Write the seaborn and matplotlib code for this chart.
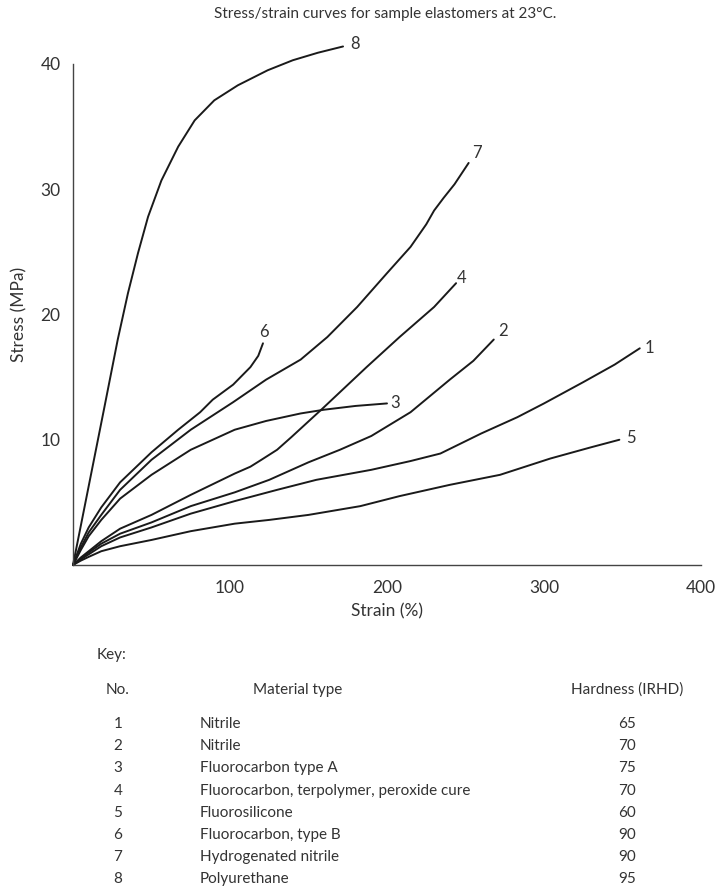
import matplotlib
matplotlib.use("Agg")
import matplotlib.pyplot as plt
import seaborn as sns
import pandas as pd

# ---- data ----
curve_ids = ["1", "2", "3", "4", "5", "6", "7", "8"]

strain_1 = [0, 5, 10, 18, 30, 50, 75, 103, 130, 155, 190, 215, 234, 260, 283, 300, 325, 345, 361]
stress_1 = [0, 0.45, 0.85, 1.5, 2.2, 3.0, 4.1, 5.1, 6.0, 6.8, 7.6, 8.3, 8.9, 10.5, 11.8, 12.9, 14.6, 16.0, 17.3]

strain_2 = [0, 5, 10, 18, 30, 50, 75, 103, 125, 150, 170, 190, 215, 240, 255, 268]
stress_2 = [0, 0.5, 1.0, 1.7, 2.5, 3.4, 4.7, 5.8, 6.8, 8.2, 9.2, 10.3, 12.2, 14.8, 16.3, 18.0]

strain_3 = [0, 5, 10, 18, 30, 50, 75, 103, 123, 145, 160, 180, 200]
stress_3 = [0, 1.2, 2.3, 3.6, 5.3, 7.2, 9.2, 10.8, 11.5, 12.1, 12.4, 12.7, 12.9]

strain_4 = [0, 5, 10, 18, 30, 50, 75, 103, 113, 120, 130, 139, 159, 187, 208, 230, 244]
stress_4 = [0, 0.6, 1.1, 1.9, 2.9, 4.0, 5.6, 7.3, 7.85, 8.4, 9.2, 10.2, 12.5, 15.8, 18.2, 20.6, 22.5]

strain_5 = [0, 5, 10, 18, 30, 50, 75, 103, 125, 150, 183, 208, 240, 272, 304, 330, 348]
stress_5 = [0, 0.35, 0.65, 1.1, 1.5, 2.0, 2.7, 3.3, 3.6, 4.0, 4.7, 5.5, 6.4, 7.2, 8.5, 9.4, 10.0]

strain_6 = [0, 5, 10, 18, 30, 50, 67, 81, 89, 102, 113, 118, 121]
stress_6 = [0, 1.7, 3.0, 4.6, 6.6, 9.0, 10.8, 12.2, 13.2, 14.4, 15.8, 16.7, 17.7]

strain_7 = [0, 5, 10, 18, 30, 50, 75, 102, 123, 145, 162, 181, 200, 215, 225, 230, 236, 243, 252]
stress_7 = [0, 1.4, 2.6, 4.0, 6.0, 8.4, 10.8, 13.0, 14.8, 16.4, 18.2, 20.6, 23.3, 25.4, 27.2, 28.3, 29.3, 30.4, 32.1]

strain_8 = [0, 10, 20, 28.5, 35, 41.4, 47.8, 56.3, 67, 77.5, 90, 105, 124, 140, 156, 172]
stress_8 = [0, 6.3, 12.6, 18.0, 21.7, 24.9, 27.8, 30.7, 33.4, 35.5, 37.1, 38.3, 39.5, 40.3, 40.9, 41.4]

x_ticks = [0, 100, 200, 300, 400]
x_tick_labels = ["", "100", "200", "300", "400"]
y_ticks = [0, 10, 20, 30, 40]
y_tick_labels = ["", "10", "20", "30", "40"]

key_no = ["1", "2", "3", "4", "5", "6", "7", "8"]
key_material = ["Nitrile", "Nitrile", "Fluorocarbon type A",
                "Fluorocarbon, terpolymer, peroxide cure", "Fluorosilicone",
                "Fluorocarbon, type B", "Hydrogenated nitrile", "Polyurethane"]
key_hardness = ["65", "70", "75", "70", "60", "90", "90", "95"]

title = "Stress/strain curves for sample elastomers at 23°C."
x_label = "Strain (%)"
y_label = "Stress (MPa)"

# ---- build table ----
strains = [strain_1, strain_2, strain_3, strain_4, strain_5, strain_6, strain_7, strain_8]
stresses = [stress_1, stress_2, stress_3, stress_4, stress_5, stress_6, stress_7, stress_8]
rows = []
for cid, xs, ys in zip(curve_ids, strains, stresses):
    for i, (x, y) in enumerate(zip(xs, ys)):
        rows.append({"curve": cid, "order": i, "strain": x, "stress": y})
df = pd.DataFrame(rows)

sns.set_theme(style="white")
plt.rcParams["font.family"] = ["Lato", "DejaVu Sans"]
TXT = "#333333"
LINE = "#1a1a1a"

fig = plt.figure(figsize=(7.17, 8.92), dpi=100)
ax = fig.add_axes([73 / 717, 327 / 892, 628 / 717, 501 / 892])

sns.lineplot(data=df, x="strain", y="stress", units="curve", estimator=None,
             sort=False, color=LINE, linewidth=1.4, ax=ax, legend=False)
for ln in ax.lines:
    ln.set_clip_on(False)
    ln.set_solid_joinstyle("round")
    ln.set_solid_capstyle("round")

ax.set_xlim(0, 400)
ax.set_ylim(0, 40)
ax.set_xticks(x_ticks)
ax.set_xticklabels(x_tick_labels)
ax.set_yticks(y_ticks)
ax.set_yticklabels(y_tick_labels)
sns.despine(ax=ax)
for s in ["left", "bottom"]:
    ax.spines[s].set_color("#444444")
    ax.spines[s].set_linewidth(1.0)
ax.tick_params(axis="both", direction="out", length=5, width=1.0,
               color="#444444", labelsize=12.5, labelcolor=TXT, pad=4)
ax.tick_params(axis="x", pad=6)
ax.set_xlabel(x_label, fontsize=12.5, color=TXT, labelpad=5)
ax.set_ylabel(y_label, fontsize=12.5, color=TXT, labelpad=9)
ax.grid(False)

# curve end labels
label_offsets = {"1": (7, 0), "2": (7, 6), "3": (6, 0), "4": (4, 4),
                 "5": (8, 1), "6": (1, 8), "7": (6, 7), "8": (9, 2)}
for cid, xs, ys in zip(curve_ids, strains, stresses):
    dx, dy = label_offsets[cid]
    ax.annotate(cid, xy=(xs[-1], ys[-1]), xytext=(dx, dy), textcoords="offset points",
                ha="center", va="center", fontsize=12, color=TXT, annotation_clip=False)

fig.text(385 / 717, 1 - 14 / 892, title, ha="center", va="center", fontsize=11, color=TXT)

# key table
def fy(py):
    return 1 - py / 892

fig.text(97 / 717, fy(655), "Key:", ha="left", va="center", fontsize=11, color=TXT)
fig.text(118 / 717, fy(690), "No.", ha="center", va="center", fontsize=11, color=TXT)
fig.text(298 / 717, fy(690), "Material type", ha="center", va="center", fontsize=11, color=TXT)
fig.text(627 / 717, fy(690), "Hardness (IRHD)", ha="center", va="center", fontsize=11, color=TXT)
row_y0, row_dy = 724, 22.2
for i, (n, m, h) in enumerate(zip(key_no, key_material, key_hardness)):
    yy = fy(row_y0 + i * row_dy)
    fig.text(118 / 717, yy, n, ha="center", va="center", fontsize=11, color=TXT)
    fig.text(200 / 717, yy, m, ha="left", va="center", fontsize=11, color=TXT)
    fig.text(627 / 717, yy, h, ha="center", va="center", fontsize=11, color=TXT)

fig.savefig("out.png", dpi=100, facecolor="white")
